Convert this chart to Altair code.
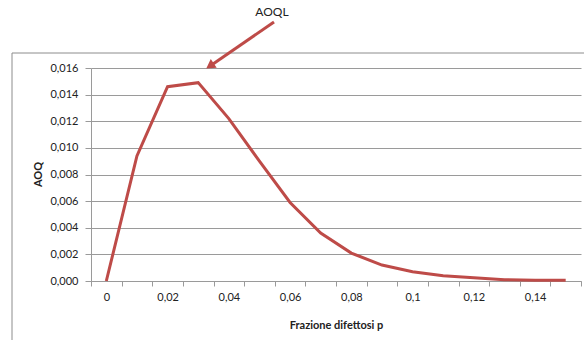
import altair as alt
import pandas as pd

# data
p_values = [0, 0.01, 0.02, 0.03, 0.04, 0.05, 0.06, 0.07, 0.08, 0.09, 0.10, 0.11, 0.12, 0.13, 0.14, 0.15]
aoq_values = [0.0, 0.0094, 0.0146, 0.0149, 0.0122, 0.0090, 0.0059, 0.0036, 0.0021, 0.0012,
              0.0007, 0.0004, 0.00025, 0.0001, 0.00006, 0.00005]
y_ticks = [0, 0.002, 0.004, 0.006, 0.008, 0.010, 0.012, 0.014, 0.016]
x_axis_values = [-0.005, 0, 0.005, 0.01, 0.015, 0.02, 0.025, 0.03, 0.035, 0.04, 0.045, 0.05,
                 0.055, 0.06, 0.065, 0.07, 0.075, 0.08, 0.085, 0.09, 0.095, 0.1, 0.105, 0.11,
                 0.115, 0.12, 0.125, 0.13, 0.135, 0.14, 0.145, 0.15, 0.155]
annotation = ["AOQL"]

df = pd.DataFrame({"p": p_values, "aoq": aoq_values})
one = pd.DataFrame({"label": annotation})

FONT = "Lato"
RED = "#BE4B48"
GRID = "#9A9A9A"

x_axis = alt.Axis(
    values=x_axis_values,
    labelExpr="(round(datum.value*1000) % 20 == 0 && datum.value > -0.001 && datum.value < 0.141) ? replace(format(datum.value, '~g'), '.', ',') : ''",
    tickOpacity={"condition": {"test": "abs(round(datum.value*1000) % 10) == 5", "value": 1}, "value": 0},
    grid=False,
    domainColor=GRID,
    tickColor=GRID,
    tickSize=5,
    labelPadding=5,
    labelFont=FONT,
    labelFontSize=11,
    labelColor="#222222",
    title="Frazione difettosi p",
    titleFont=FONT,
    titleFontSize=11,
    titleFontWeight="bold",
    titleColor="#222222",
    titleY=44,
    titleBaseline="middle",
)

y_axis = alt.Axis(
    values=y_ticks,
    labelExpr="replace(format(datum.value, '.3f'), '.', ',')",
    grid=True,
    gridColor=GRID,
    domainColor=GRID,
    tickColor=GRID,
    tickSize=6,
    labelPadding=7,
    labelFont=FONT,
    labelFontSize=11,
    labelColor="#222222",
    title="AOQ",
    titleFont=FONT,
    titleFontSize=11,
    titleFontWeight="bold",
    titleColor="#222222",
    titleX=-53,
    titleY=106,
    titleBaseline="middle",
)

line = alt.Chart(df).mark_line(color=RED, strokeWidth=3).encode(
    x=alt.X("p:Q", scale=alt.Scale(domain=[-0.005, 0.155], nice=False, zero=False), axis=x_axis),
    y=alt.Y("aoq:Q", scale=alt.Scale(domain=[0, 0.016], nice=False), axis=y_axis),
)

border = alt.Chart(one).mark_rect(fill=None, stroke="#8C8C8C", strokeWidth=1).encode(
    x=alt.value(-79), x2=alt.value(520), y=alt.value(-15), y2=alt.value(300)
)

arrow_line = alt.Chart(one).mark_rule(color=RED, strokeWidth=3).encode(
    x=alt.value(183), x2=alt.value(122), y=alt.value(-46), y2=alt.value(-4)
)

arrow_head = alt.Chart(one).mark_point(
    shape="triangle-up", filled=True, color=RED, opacity=1, size=110, angle=235.5
).encode(x=alt.value(119), y=alt.value(-2))

label = alt.Chart(one).mark_text(
    font=FONT, fontSize=12, color="#222222", align="center", baseline="middle"
).encode(text="label:N", x=alt.value(181), y=alt.value(-56))

chart = alt.layer(border, line, arrow_line, arrow_head, label).properties(
    width=490,
    height=213,
    padding={"left": 91, "top": 68, "right": 3, "bottom": 59},
    autosize=alt.AutoSizeParams(type="none"),
    background="white",
).configure_view(stroke=None)

chart.save("out.html", embed_options={"renderer": "svg", "actions": False})
